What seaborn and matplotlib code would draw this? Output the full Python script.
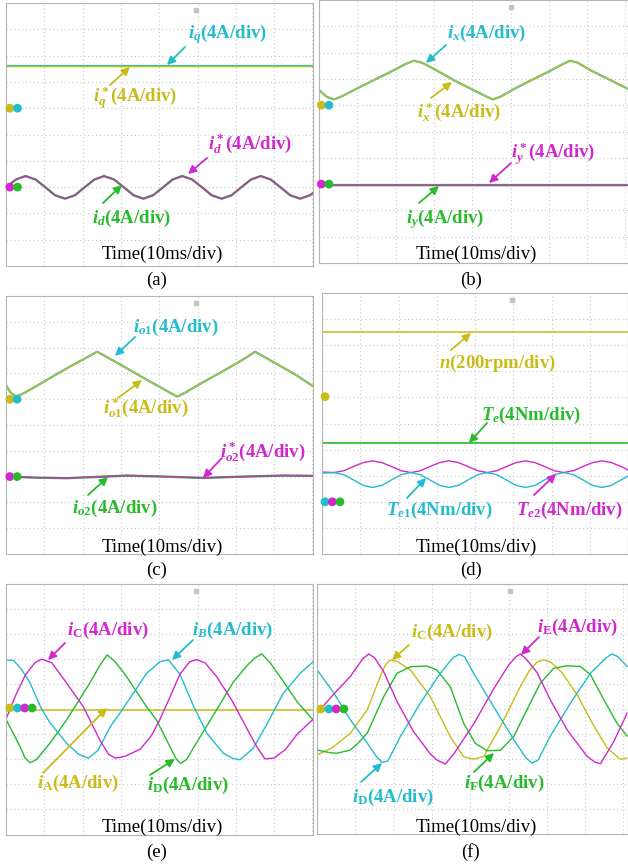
import numpy as np
import pandas as pd
import matplotlib
matplotlib.use("Agg")
import matplotlib.pyplot as plt
import seaborn as sns

sns.set_theme(style="white")
plt.rcParams['font.family'] = ['Liberation Serif', 'DejaVu Serif']
plt.rcParams['mathtext.fontset'] = 'custom'
plt.rcParams['mathtext.it'] = 'Liberation Serif:italic:bold'
plt.rcParams['mathtext.rm'] = 'Liberation Serif:bold'
plt.rcParams['mathtext.bf'] = 'Liberation Serif:bold'

# ---------------- data (divisions) ----------------
# (a)
a_flat_x = [0, 8.02]
a_iq = [7.62, 7.62]
a_x = [0, 0.26, 0.51, 0.77, 1.03, 1.28, 1.54, 1.80, 2.05, 2.31, 2.56, 2.82, 3.08, 3.33,
       3.59, 3.84, 4.10, 4.35, 4.60, 4.86, 5.12, 5.37, 5.63, 5.89, 6.14, 6.40, 6.65,
       6.91, 7.17, 7.42, 7.68, 7.94, 8.02]
a_id = [2.99, 3.29, 3.42, 3.29, 2.99, 2.69, 2.56, 2.69, 2.99, 3.29, 3.42, 3.29, 2.99, 2.69,
        2.56, 2.69, 2.99, 3.29, 3.42, 3.29, 2.99, 2.69, 2.56, 2.69, 2.99, 3.29, 3.42,
        3.29, 2.99, 2.69, 2.56, 2.69, 2.78]
# (b)
b_x = [0, 0.2, 0.39, 0.6, 1.0, 1.44, 1.9, 2.25, 2.48, 2.7, 3.0, 3.52, 4.0, 4.3, 4.53,
       4.75, 5.1, 5.5, 6.0, 6.35, 6.55, 6.75, 7.1, 7.6, 8.05]
b_ix = [6.58, 6.32, 6.22, 6.34, 6.64, 6.96, 7.29, 7.56, 7.69, 7.61, 7.38, 6.95, 6.60, 6.38,
        6.22, 6.33, 6.62, 6.92, 7.28, 7.55, 7.69, 7.62, 7.32, 6.96, 6.63]
b_flat_x = [0, 8.05]
b_iy = [2.98, 2.98]
# (c)
c_x = [0, 0.12, 0.28, 0.5, 0.9, 1.32, 1.8, 2.15, 2.38, 2.6, 2.95, 3.41, 3.9, 4.25, 4.47,
       4.7, 5.05, 5.5, 6.0, 6.3, 6.5, 6.72, 7.05, 7.55, 8.02]
c_io1 = [6.55, 6.25, 6.10, 6.26, 6.60, 6.97, 7.37, 7.65, 7.84, 7.66, 7.37, 6.98, 6.57, 6.28,
         6.10, 6.27, 6.58, 6.95, 7.37, 7.64, 7.84, 7.66, 7.38, 6.96, 6.50]
c_x2 = [0, 0.8, 1.58, 2.4, 3.15, 4.15, 5.15, 6.2, 7.23, 8.02]
c_io2 = [3.0, 2.96, 2.94, 2.99, 3.04, 3.0, 2.95, 3.0, 3.04, 3.03]
# (d)
d_flat_x = [0, 8.0]
d_n = [8.49, 8.49]
d_te = [4.24, 4.24]
d_x = [0, 0.32, 0.57, 0.82, 1.07, 1.32, 1.57, 1.82, 2.07, 2.32, 2.57, 2.82, 3.07, 3.32,
       3.57, 3.82, 4.07, 4.32, 4.57, 4.82, 5.07, 5.32, 5.57, 5.82, 6.07, 6.32, 6.57,
       6.82, 7.07, 7.32, 7.57, 7.82, 8.0]
d_te2 = [3.14, 3.12, 3.19, 3.35, 3.50, 3.57, 3.50, 3.35, 3.19, 3.12, 3.19, 3.35, 3.50, 3.57,
         3.50, 3.35, 3.19, 3.12, 3.19, 3.35, 3.50, 3.57, 3.50, 3.35, 3.19, 3.12, 3.19,
         3.35, 3.50, 3.57, 3.50, 3.35, 3.22]
d_te1 = [3.10, 3.12, 3.04, 2.84, 2.63, 2.55, 2.63, 2.84, 3.04, 3.12, 3.04, 2.84, 2.63, 2.55,
         2.63, 2.84, 3.04, 3.12, 3.04, 2.84, 2.63, 2.55, 2.63, 2.84, 3.04, 3.12, 3.04,
         2.84, 2.63, 2.55, 2.63, 2.84, 2.99]
# (e)
e_flat_x = [0, 8.02]
e_ia = [4.98, 4.98]
e_ic_x = [0.0, 0.25, 0.5, 0.75, 0.93, 1.2, 1.58, 2.02, 2.45, 2.68, 2.85, 3.1, 3.5, 3.8,
          4.02, 4.3, 4.54, 4.8, 4.98, 5.2, 5.5, 5.9, 6.3, 6.55, 6.76, 7.0, 7.3, 7.6, 8.02]
e_ic = [4.60, 5.55, 6.35, 6.85, 7.00, 6.85, 6.05, 5.10, 3.77, 3.20, 3.05, 3.12, 3.40, 3.95,
        4.60, 5.55, 6.40, 6.90, 6.98, 6.85, 6.30, 5.35, 4.20, 3.50, 3.02, 3.05, 3.40, 4.00,
        4.60]
e_ib_x = [0.0, 0.2, 0.4, 0.63, 0.9, 1.15, 1.58, 1.9, 2.15, 2.4, 2.72, 3.0, 3.33, 3.67,
          4.02, 4.24, 4.54, 4.89, 5.24, 5.67, 5.9, 6.11, 6.46, 6.81, 7.24, 7.68, 8.02]
e_ib = [6.97, 6.95, 6.60, 6.05, 5.10, 4.45, 3.65, 3.20, 3.05, 3.35, 4.30, 4.90, 5.65, 6.43,
        6.90, 6.97, 6.40, 5.15, 4.05, 3.25, 3.05, 2.98, 3.45, 4.40, 5.64, 6.43, 6.90]
e_id_x = [0.0, 0.37, 0.5, 0.63, 0.8, 1.15, 1.58, 2.19, 2.45, 2.64, 2.85, 3.15, 3.67, 3.93,
          4.25, 4.45, 4.56, 4.72, 4.89, 5.41, 5.94, 6.30, 6.50, 6.68, 6.90, 7.20, 7.60, 8.02]
e_id = [4.60, 3.50, 3.05, 2.86, 3.00, 3.65, 4.57, 6.05, 6.75, 7.17, 6.90, 6.30, 5.10, 4.57,
        3.60, 3.00, 2.84, 3.00, 3.45, 4.75, 6.10, 6.75, 7.05, 7.21, 6.85, 6.20, 5.30, 4.57]
# (f)
f_ie_x = [0.0, 0.44, 0.87, 1.2, 1.35, 1.5, 1.74, 2.09, 2.52, 2.96, 3.13, 3.35, 3.57, 4.09,
          4.61, 5.0, 5.2, 5.31, 5.45, 5.75, 6.09, 6.53, 7.05, 7.25, 7.40, 7.75, 8.10]
f_ie = [4.83, 5.60, 6.30, 7.02, 7.20, 7.05, 6.50, 5.30, 4.10, 3.20, 2.96, 2.80, 3.20, 4.40,
        5.80, 6.75, 7.10, 7.20, 7.02, 6.45, 5.37, 4.17, 3.11, 2.88, 2.81, 3.70, 4.84]
f_id_x = [0.0, 0.44, 0.87, 1.31, 1.55, 1.70, 1.85, 2.18, 2.70, 3.22, 3.55, 3.70, 3.85, 4.09,
          4.61, 5.14, 5.45, 5.61, 5.77, 6.09, 6.62, 7.14, 7.55, 7.70, 7.85, 8.10]
f_id = [6.57, 5.64, 4.57, 3.64, 3.10, 2.86, 2.92, 3.91, 5.24, 6.43, 7.05, 7.18, 7.10, 6.43,
        5.10, 3.77, 3.05, 2.84, 2.95, 3.91, 5.24, 6.43, 7.05, 7.20, 7.10, 6.70]
f_ic_x = [0.0, 0.40, 0.87, 1.31, 1.65, 1.78, 1.91, 2.10, 2.44, 2.96, 3.48, 3.83, 4.09, 4.35,
          4.79, 5.31, 5.55, 5.75, 5.92, 6.10, 6.40, 6.80, 7.20, 7.57, 7.92, 8.10]
f_ic = [3.16, 3.45, 4.03, 4.96, 6.29, 6.75, 6.96, 6.90, 6.56, 5.49, 3.89, 3.09, 2.99, 3.10,
        4.30, 5.90, 6.55, 6.88, 6.97, 6.88, 6.45, 5.55, 4.40, 3.45, 2.99, 3.04]
f_if_x = [0.0, 0.35, 0.52, 0.87, 1.05, 1.31, 1.74, 2.09, 2.44, 2.87, 3.13, 3.48, 3.83, 4.13,
          4.44, 4.79, 5.14, 5.48, 5.83, 6.18, 6.53, 6.88, 7.14, 7.49, 7.83, 8.10]
f_if = [3.36, 3.25, 3.23, 3.36, 3.60, 4.03, 5.49, 6.43, 6.69, 6.72, 6.56, 5.89, 4.43, 3.63,
        3.33, 3.35, 3.91, 4.97, 6.03, 6.63, 6.73, 6.70, 6.37, 5.37, 4.44, 3.91]

# channel reference markers (x, y in divisions)
a_mk_x = [0.10, 0.30]; a_mk_y1 = [6.0, 6.0]; a_mk_y2 = [3.0, 3.0]
b_mk_x = [0.06, 0.26]; b_mk_y1 = [6.0, 6.0]; b_mk_y2 = [3.0, 3.0]
c_mk_x = [0.10, 0.29]; c_mk_y1 = [6.0, 6.0]; c_mk_y2 = [3.0, 3.0]
d_mk1_x = [0.08]; d_mk1_y = [6.03]
d_mk2_x = [0.08, 0.27, 0.47]; d_mk2_y = [2.0, 2.0, 2.0]
e_mk_x = [0.10, 0.30, 0.49, 0.68]; e_mk_y = [5.05, 5.05, 5.05, 5.05]
f_mk_x = [0.10, 0.31, 0.50, 0.70]; f_mk_y = [5.0, 5.0, 5.0, 5.0]

YEL = '#c8bc18'
CYA = '#22bccc'
MAG = '#d028cc'
GRN = '#26bb2a'

W, H = 628, 864
DIVX = 38.3
fig = plt.figure(figsize=(W / 100, H / 100), dpi=100)


def panel(l, t, r, b):
    ax = fig.add_axes([l / W, 1 - b / H, (r - l) / W, (b - t) / H])
    ax.set_xlim(0, (r - l) / DIVX)
    ax.set_ylim(0, 10)
    ax.set_xticks(np.arange(1, 9))
    ax.set_yticks(np.arange(1, 10))
    ax.grid(True, color='#cacaca', linestyle=(0, (1, 2.5)), linewidth=0.8)
    ax.tick_params(length=0, labelbottom=False, labelleft=False)
    for s in ax.spines.values():
        s.set_color('#b4b4b4')
        s.set_linewidth(0.8)
    # small trigger mark near the top
    ax.plot([0.62], [1 - 7 / (b - t)], transform=ax.transAxes, marker='s', ms=2.6,
            color='#c4c4c4', clip_on=False)
    return ax


def trace(ax, x, y, color, lw=1.0):
    sns.lineplot(x=x, y=y, ax=ax, color=color, linewidth=lw, estimator=None,
                 sort=False, legend=False)


def dots(ax, x, y, colors):
    sns.scatterplot(x=x, y=y, ax=ax, hue=list(range(len(x))), palette=colors,
                    s=40, edgecolor='none', legend=False, zorder=5, clip_on=False)


FS = 13.5


def label(txt, color, left, base, tail, head):
    fig.text(left / W, 1 - base / H, txt, color=color, fontsize=FS, fontweight='bold',
             ha='left', va='baseline')
    fig.add_artist(matplotlib.patches.FancyArrowPatch(
        (tail[0] / W, 1 - tail[1] / H), (head[0] / W, 1 - head[1] / H),
        transform=fig.transFigure, arrowstyle='-|>', mutation_scale=12,
        color=color, linewidth=1.3, shrinkA=0, shrinkB=0))


def footer(cx, ty, letter, ly):
    fig.text(cx / W, 1 - ty / H, 'Time(10ms/div)', fontsize=FS, ha='center',
             va='center', color='black')
    fig.text(cx / W - 5 / W, 1 - ly / H, letter, fontsize=FS, ha='center',
             va='center', color='black')


# (a)
ax = panel(6, 3, 313, 266)
trace(ax, a_flat_x, a_iq, CYA, 1.6)
trace(ax, a_flat_x, a_iq, YEL, 1.0)
trace(ax, a_x, a_id, GRN, 1.7)
trace(ax, a_x, a_id, MAG, 1.0)
dots(ax, a_mk_x, a_mk_y1, [YEL, CYA])
dots(ax, a_mk_x, a_mk_y2, [MAG, GRN])
label(r'$i_q$(4A/div)', CYA, 188, 38, (185, 47), (167, 65))
label(r'$i_q^*$(4A/div)', YEL, 93, 103, (110, 85), (130, 67))
label(r'$i_d^*$(4A/div)', MAG, 208, 150, (207, 158), (188, 174))
label(r'$i_d$(4A/div)', GRN, 92, 223, (103, 203), (122, 185))
footer(162, 254, '(a)', 280)

# (b)
ax = panel(319, 0, 628, 263)
trace(ax, b_x, b_ix, CYA, 1.6)
trace(ax, b_x, b_ix, YEL, 1.0)
trace(ax, b_flat_x, b_iy, GRN, 1.6)
trace(ax, b_flat_x, b_iy, MAG, 1.0)
dots(ax, b_mk_x, b_mk_y1, [YEL, CYA])
dots(ax, b_mk_x, b_mk_y2, [MAG, GRN])
label(r'$i_x$(4A/div)', CYA, 447, 38, (446, 45), (426, 63))
label(r'$i_x^*$(4A/div)', YEL, 417, 118, (431, 98), (452, 82))
label(r'$i_y^*$(4A/div)', MAG, 511, 158, (511, 163), (489, 183))
label(r'$i_y$(4A/div)', GRN, 406, 223, (419, 203), (439, 186))
footer(476, 254, '(b)', 280)

# (c)
ax = panel(6, 296, 313, 554)
trace(ax, c_x, c_io1, CYA, 1.6)
trace(ax, c_x, c_io1, YEL, 1.0)
trace(ax, c_x2, c_io2, GRN, 1.7)
trace(ax, c_x2, c_io2, MAG, 1.0)
dots(ax, c_mk_x, c_mk_y1, [YEL, CYA])
dots(ax, c_mk_x, c_mk_y2, [MAG, GRN])
label(r'$i_{o1}$(4A/div)', CYA, 133, 332, (135, 337), (115, 356))
label(r'$i_{o1}^*$(4A/div)', YEL, 103, 413, (118, 398), (142, 380))
label(r'$i_{o2}^*$(4A/div)', MAG, 220, 457, (222, 458), (203, 478))
label(r'$i_{o2}$(4A/div)', GRN, 72, 513, (88, 495), (108, 477))
footer(162, 547, '(c)', 570)

# (d)
ax = panel(322, 293, 628, 554)
trace(ax, d_flat_x, d_n, YEL, 1.1)
trace(ax, d_flat_x, d_te, GRN, 1.2)
trace(ax, d_x, d_te2, MAG, 1.0)
trace(ax, d_x, d_te1, CYA, 1.0)
dots(ax, d_mk1_x, d_mk1_y, [YEL])
dots(ax, d_mk2_x, d_mk2_y, [CYA, MAG, GRN])
label(r'$n$(200rpm/div)', YEL, 439, 368, (451, 350), (471, 333))
label(r'$T_e$(4Nm/div)', GRN, 481, 420, (487, 423), (469, 443))
label(r'$T_{e1}$(4Nm/div)', CYA, 386, 515, (407, 498), (426, 478))
label(r'$T_{e2}$(4Nm/div)', MAG, 516, 515, (534, 495), (556, 474))
footer(476, 547, '(d)', 570)

# (e)
ax = panel(6, 584, 313, 834.5)
trace(ax, e_flat_x, e_ia, YEL, 1.1)
trace(ax, e_id_x, e_id, GRN, 1.0)
trace(ax, e_ib_x, e_ib, CYA, 1.0)
trace(ax, e_ic_x, e_ic, MAG, 1.0)
dots(ax, e_mk_x, e_mk_y, [YEL, CYA, MAG, GRN])
label(r'$i_\mathrm{C}$(4A/div)', MAG, 67, 635, (65, 643), (48, 660))
label(r'$i_B$(4A/div)', CYA, 192, 635, (193, 640), (172, 660))
label(r'$i_\mathrm{A}$(4A/div)', YEL, 37, 788, (43, 773), (107, 708))
label(r'$i_\mathrm{D}$(4A/div)', GRN, 147, 790, (150, 775), (175, 759))
footer(162, 827, '(e)', 852)

# (f)
ax = panel(317, 584, 628, 834)
trace(ax, f_ic_x, f_ic, YEL, 1.0)
trace(ax, f_if_x, f_if, GRN, 1.0)
trace(ax, f_id_x, f_id, CYA, 1.0)
trace(ax, f_ie_x, f_ie, MAG, 1.0)
dots(ax, f_mk_x, f_mk_y, [YEL, CYA, MAG, GRN])
label(r'$i_\mathrm{C}$(4A/div)', YEL, 411, 637, (409, 645), (392, 660))
label(r'$i_\mathrm{E}$(4A/div)', MAG, 537, 632, (539, 637), (521, 655))
label(r'$i_\mathrm{D}$(4A/div)', CYA, 352, 802, (361, 782), (382, 763))
label(r'$i_\mathrm{F}$(4A/div)', GRN, 464, 788, (474, 772), (494, 753))
footer(476, 827, '(f)', 852)

fig.savefig('out.png', dpi=100)
